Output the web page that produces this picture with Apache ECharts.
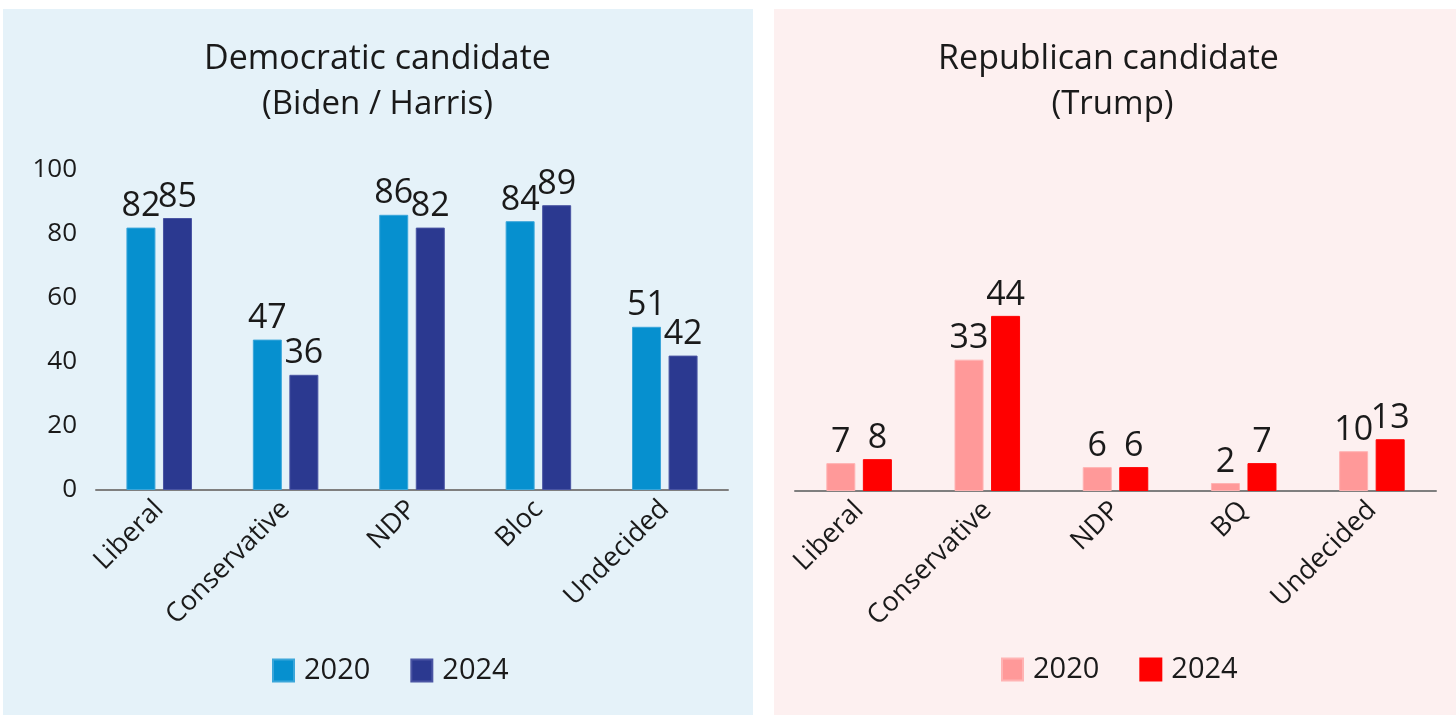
<!DOCTYPE html>
<html>
<head>
<meta charset="utf-8">
<script src="https://cdn.jsdelivr.net/npm/echarts@6/dist/echarts.min.js"></script>
<style>
  html, body { margin: 0; padding: 0; background: #ffffff; width: 1456px; height: 715px; overflow: hidden; }
  #dem { position: absolute; left: 3px; top: 9px; width: 750px; height: 706px; background: #e5f2f9; }
  #rep { position: absolute; left: 774px; top: 9px; width: 682px; height: 706px; background: #fdf0f0; }
</style>
</head>
<body>
<div id="dem"></div>
<div id="rep"></div>
<script>
// ---- Data ----
const demCategories = ['Liberal', 'Conservative', 'NDP', 'Bloc', 'Undecided'];
const dem2020 = [82, 47, 86, 84, 51];
const dem2024 = [85, 36, 82, 89, 42];

const repCategories = ['Liberal', 'Conservative', 'NDP', 'BQ', 'Undecided'];
const rep2020 = [7, 33, 6, 2, 10];
const rep2024 = [8, 44, 6, 7, 13];

const yTicks = [0, 20, 40, 60, 80, 100];
const seriesNames = ['2020', '2024'];

const FONT = '"Open Sans", Lato, sans-serif';
const INK = '#1a1a1a';

function titleText(text, x, y, size) {
  return {
    type: 'text',
    x: x,
    y: y,
    style: {
      text: text,
      fill: INK,
      font: size + 'px ' + FONT,
      textAlign: 'center',
      textVerticalAlign: 'middle'
    }
  };
}

function buildOption(cfg) {
  return {
    animation: false,
    graphic: [
      titleText(cfg.title, cfg.titleX, 50, 34),
      titleText(cfg.subtitle, cfg.subtitleX, 95.5, 33)
    ],
    legend: {
      data: seriesNames,
      left: cfg.legendLeft,
      top: cfg.legendTop,
      orient: 'horizontal',
      icon: 'rect',
      itemWidth: 21,
      itemHeight: 22,
      itemGap: 40,
      padding: 0,
      textStyle: { fontFamily: FONT, fontSize: 29, color: INK, lineHeight: 22, padding: [0, 0, 0, 5] }
    },
    grid: {
      left: cfg.gridLeft,
      right: cfg.gridRight,
      top: cfg.gridTop,
      bottom: cfg.gridBottom,
      containLabel: false,
      outerBoundsMode: 'none'
    },
    xAxis: {
      type: 'category',
      data: cfg.categories,
      axisLine: { show: true, lineStyle: { color: '#7f7f7f', width: 2 } },
      axisTick: { show: false },
      axisLabel: {
        rotate: 45,
        margin: 15,
        interval: 0,
        fontFamily: FONT,
        fontSize: 27,
        color: INK
      },
      splitLine: { show: false }
    },
    yAxis: {
      type: 'value',
      min: 0,
      max: cfg.yMax,
      interval: cfg.yInterval,
      axisLine: { show: false },
      axisTick: { show: false },
      splitLine: { show: false },
      axisLabel: {
        show: cfg.showY,
        margin: 19,
        fontFamily: FONT,
        fontSize: 26,
        color: INK
      }
    },
    series: [
      {
        name: seriesNames[0],
        type: 'bar',
        data: cfg.s1,
        barWidth: 29,
        barGap: '26%',
        itemStyle: { color: cfg.c1, borderColor: cfg.b1, borderWidth: 1 },
        label: { show: true, position: 'top', distance: 4, fontFamily: FONT, fontSize: 34, color: INK }
      },
      {
        name: seriesNames[1],
        type: 'bar',
        data: cfg.s2,
        barWidth: 29,
        barGap: '26%',
        itemStyle: { color: cfg.c2, borderColor: cfg.b2, borderWidth: 1 },
        label: { show: true, position: 'top', distance: 4, fontFamily: FONT, fontSize: 34, color: INK }
      }
    ]
  };
}

const demChart = echarts.init(document.getElementById('dem'), null, { renderer: 'canvas' });
demChart.setOption(buildOption({
  title: 'Democratic candidate',
  subtitle: '(Biden / Harris)',
  titleX: 374.5, subtitleX: 374.5,
  categories: demCategories,
  s1: dem2020, s2: dem2024,
  c1: '#0690cf', c2: '#2b3990',
  b1: '#3aa6da', b2: '#4a55a3',
  gridLeft: 93, gridRight: 25, gridTop: 161, gridBottom: 225,
  yMax: 100, yInterval: 20, showY: true,
  legendLeft: 269, legendTop: 647
}));

const repChart = echarts.init(document.getElementById('rep'), null, { renderer: 'canvas' });
repChart.setOption(buildOption({
  title: 'Republican candidate',
  subtitle: '(Trump)',
  titleX: 334.5, subtitleX: 338.5,
  categories: repCategories,
  s1: rep2020, s2: rep2024,
  c1: '#ff9999', c2: '#ff0000',
  b1: '#ffb3b3', b2: '#ff0000',
  gridLeft: 21, gridRight: 20, gridTop: 283, gridBottom: 224,
  yMax: 50, yInterval: 10, showY: false,
  legendLeft: 227, legendTop: 646
}));
</script>
</body>
</html>
